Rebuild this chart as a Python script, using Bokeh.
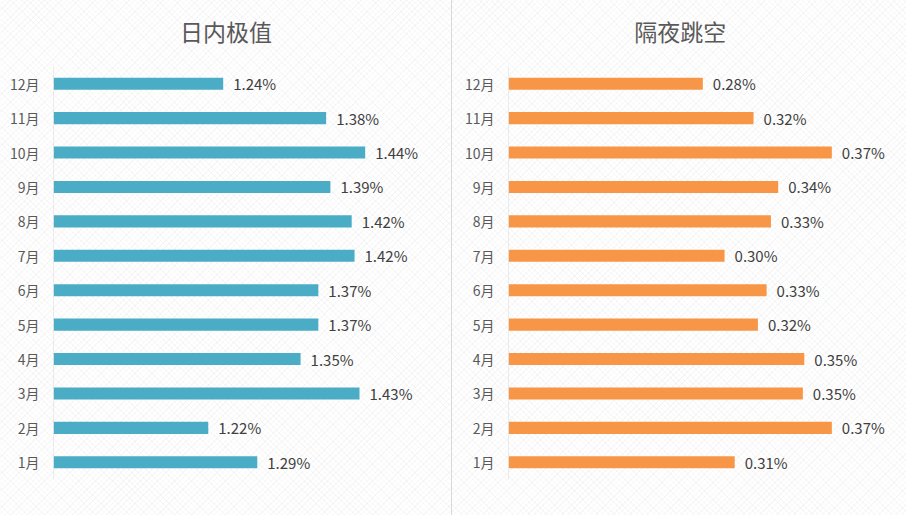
from bokeh.plotting import figure
from bokeh.models import ColumnDataSource, Range1d, FixedTicker
from bokeh.layouts import row
from bokeh.embed import file_html
from bokeh.resources import INLINE
from bokeh.core.properties import value

months = ["1月", "2月", "3月", "4月", "5月", "6月", "7月", "8月", "9月", "10月", "11月", "12月"]
intraday = [1.287, 1.218, 1.431, 1.348, 1.373, 1.373, 1.424, 1.420, 1.390, 1.439, 1.384, 1.239]
overnight = [0.306, 0.373, 0.353, 0.354, 0.322, 0.328, 0.299, 0.331, 0.336, 0.373, 0.319, 0.284]
titles = ["日内极值", "隔夜跳空"]

FONT = "Noto Sans CJK SC"
TEXT_COLOR = "#595959"
H = 515
TOP = 66          # px from top to first category band
FRAME_H = 413     # px for the 12 category bands
TITLE_Y = 30      # px from top to title centre
BG = ("repeating-linear-gradient(45deg, rgba(0,0,0,0) 0px, rgba(0,0,0,0) 3px, "
      "rgba(0,0,0,0.025) 3px, rgba(0,0,0,0.025) 4px), "
      "repeating-linear-gradient(-45deg, #ffffff 0px, #ffffff 3px, #f8f8f8 3px, #f8f8f8 4px)")


def panel(title, vals, color, xmin, px_per_unit, width, border_left, title_cx):
    n = len(months)
    ypos = list(range(1, n + 1))
    per = FRAME_H / n
    y_top = n + 0.5 + TOP / per
    y_bot = 0.5 - (H - TOP - FRAME_H) / per
    frame_w = width - border_left - 10
    xmax = xmin + frame_w / px_per_unit
    src = ColumnDataSource(dict(y=ypos, v=vals, lbl=[f"{x:.2f}%" for x in vals],
                                base=[xmin] * n))
    p = figure(width=width, height=H, output_backend="svg", toolbar_location=None,
               y_range=Range1d(y_bot, y_top), x_range=Range1d(xmin, xmax),
               min_border_left=border_left, min_border_right=10,
               min_border_top=0, min_border_bottom=0,
               styles={"background": BG})
    p.hbar(y="y", left="base", right="v", height=0.35, source=src,
           fill_color=color, line_color=None)
    p.text(x="v", y="y", text="lbl", source=src, x_offset=10,
           text_baseline="middle", text_align="left",
           text_font=value(FONT), text_font_size="15px", text_color="#404040")
    # category axis line
    p.segment(x0=[xmin], y0=[0.5], x1=[xmin], y1=[n + 0.5], line_color="#d9d9d9", line_width=1)
    # panel title
    p.text(x=[xmin + (title_cx - border_left) / px_per_unit], y=[y_top - TITLE_Y / per],
           text=[title], text_align="center", text_baseline="middle",
           text_font=value(FONT), text_font_size="23px", text_color=TEXT_COLOR)
    p.xaxis.visible = False
    p.xgrid.visible = False
    p.ygrid.visible = False
    p.outline_line_color = None
    p.yaxis.ticker = FixedTicker(ticks=ypos)
    p.yaxis.major_label_overrides = {i: m for i, m in zip(ypos, months)}
    p.yaxis.axis_line_color = None
    p.yaxis.major_tick_line_color = None
    p.yaxis.minor_tick_line_color = None
    p.yaxis.major_tick_out = 0
    p.yaxis.major_tick_in = 0
    p.yaxis.major_label_text_font = FONT
    p.yaxis.major_label_text_font_size = "14px"
    p.yaxis.major_label_text_color = TEXT_COLOR
    p.yaxis.major_label_standoff = 14
    p.background_fill_color = None
    p.border_fill_color = None
    return p


p1 = panel(titles[0], intraday, "#4BACC6", 1.0, 710, 451, 53, 225.5)
p2 = panel(titles[1], overnight, "#F79646", 0.15, 1450, 454, 56, 679.7 - 452)

layout = row(p1, p2, spacing=1, styles={"background-color": "#d9d9d9"})
open("out.html", "w").write(file_html(layout, INLINE))
